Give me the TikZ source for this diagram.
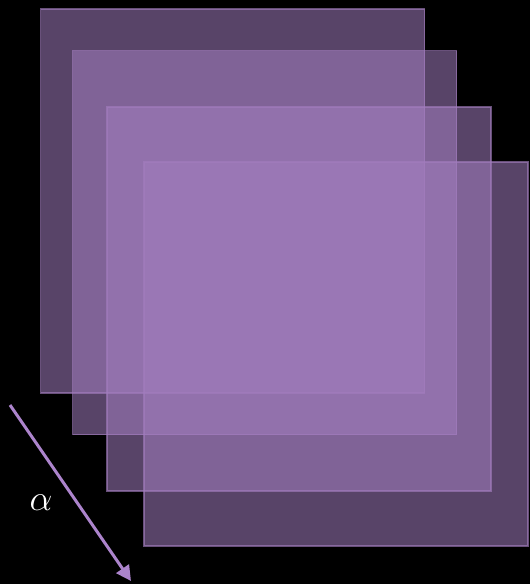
\documentclass[tikz,border=0pt]{standalone}
\usetikzlibrary{arrows.meta}
\definecolor{sheet}{RGB}{162,125,190}
\definecolor{arrowcol}{RGB}{172,132,204}
\begin{document}
\begin{tikzpicture}[x=1pt, y=-1pt, every node/.style={font=\LARGE},
    layer/.style={draw=sheet, rectangle, fill=sheet, fill opacity=0.55, draw opacity=0.65, line width=1.5pt, minimum width=384pt, minimum height=384pt, inner sep=0pt}]
    % Fond
    \fill[black] (0,0) rectangle (530,584);
    \useasboundingbox (0,0) rectangle (530,584);

    % Couches
    \node[layer] (layerA) at (232.5,201) {};
    \node[layer] (layerB) at (264.5,242.5) {};
    \node[layer] (layerC) at (299,299) {};
    \node[layer] (layerD) at (336,354) {};

    % Direction
    \coordinate (tail) at (10,405);
    \coordinate (tip) at (131,581);
    \draw[arrowcol, line width=3pt, -{Triangle[length=15pt, width=15pt]}] (tail) -- (tip);
    \node[text=white, scale=2.1] (alpha) at (41,503) {$\alpha$};
\end{tikzpicture}
\end{document}
